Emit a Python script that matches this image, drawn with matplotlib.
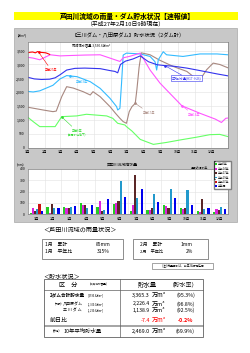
import numpy as np
import matplotlib
matplotlib.use("Agg")
import matplotlib.pyplot as plt
from matplotlib.patches import Rectangle
from matplotlib.lines import Line2D

plt.rcParams['font.family'] = ['Noto Sans CJK JP', 'DejaVu Sans']

# ---------------- data ----------------
month_labels = ['1月', '2月', '3月', '4月', '5月', '6月', '7月', '8月', '9月', '10月', '11月', '12月']
month_start = [0, 31, 59, 90, 120, 151, 181, 212, 243, 273, 304, 334]

# storage of the 2 dams (day of year, 万m3)
h27_days = [0, 4, 9, 14, 18, 23, 28, 33, 37, 40]
h27_vol = [3420, 3440, 3450, 3420, 3465, 3440, 3430, 3420, 3390, 3365]

h14_days = [0, 10, 22, 41, 59, 72, 104, 132, 150, 168, 174, 187, 205, 223, 241, 259, 281, 314, 342, 353, 361, 365]
h14_vol = [3260, 3230, 3170, 3350, 3310, 3320, 3340, 3350, 3230, 3110, 3240, 3300, 3410, 2800, 2330, 1960, 1510, 1240, 1030, 910, 1060, 1070]

avg_days = [0, 12, 25, 40, 50, 59, 71, 86, 104, 132, 150, 159, 164, 169, 178, 192, 205, 220, 236, 250, 265, 290, 314, 345, 365]
avg_vol = [2540, 2480, 2460, 2470, 2520, 2630, 2800, 2860, 2870, 2850, 2780, 2750, 2700, 3000, 3120, 3200, 3310, 3100, 2990, 2960, 2940, 2870, 2780, 2660, 2590]

h19_days = [0, 10, 22, 46, 59, 71, 90, 114, 132, 150, 162, 164, 168, 171, 174, 180, 205, 223, 232, 235, 238, 247, 253, 283, 314, 345, 365]
h19_vol = [2030, 2010, 2050, 2250, 2480, 2600, 2560, 2380, 2140, 1780, 1480, 1360, 1420, 2320, 3340, 3410, 3380, 3290, 3100, 2800, 3170, 3460, 3350, 3290, 3380, 3380, 3350]

h17_days = [0, 28, 46, 52, 62, 71, 83, 101, 114, 119, 132, 150, 160, 168, 174, 180, 185, 190, 196, 199, 203, 207, 223, 241, 265, 290, 306, 314, 326, 338, 350, 365]
h17_vol = [1460, 1360, 1300, 1320, 1840, 2200, 2150, 2020, 1900, 2020, 1840, 1480, 1240, 1060, 940, 880, 1300, 1480, 1600, 2100, 2900, 3420, 3350, 3150, 2930, 2750, 2500, 2450, 2810, 3050, 3000, 2880]

h6_days = [0, 10, 22, 50, 62, 89, 107, 144, 155, 164, 177, 180, 190, 205, 229, 253, 278, 308, 332, 350, 365]
h6_vol = [1100, 940, 760, 760, 1120, 1145, 1205, 1145, 1060, 880, 820, 760, 600, 300, 120, 190, 280, 380, 470, 480, 400]

# monthly rainfall (mm)
rain_h6 = [12, 65, 60, 96, 66, 90, 27, 36, 81, 51, 27, 21]
rain_h14 = [50, 10, 57, 81, 120, 96, 81, 36, 75, 45, 21, 45]
rain_h17 = [27, 87, 54, 81, 30, 116, 347, 54, 54, 54, 131, 36]
rain_h19 = [42, 51, 60, 57, 36, 296, 143, 174, 221, 214, 45, 63]
rain_h27 = [85, 1]
rain_normal = [27, 54, 69, 81, 134, 153, 220, 104, 143, 81, 54, 48]

capacity_total = 3530.6
storage_now = 3365.3
storage_hattabara = 2226.4
cap_hattabara = 2300.0
storage_mikawa = 1138.9
cap_mikawa = 1230.6
storage_change = -7.4
storage_avg10 = 2469.0

# ---------------- figure ----------------
W, H = 250, 353
fig = plt.figure(figsize=(2.5, 3.53), dpi=100)


def fx(x):
    return x / W


def fy(y):
    return 1 - y / H


def box(x0, y0, x1, y1):
    return [fx(x0), fy(y1), fx(x1) - fx(x0), fy(y0) - fy(y1)]


def rect(x0, y0, x1, y1, **kw):
    kw.setdefault('zorder', -5)
    fig.patches.append(Rectangle((fx(x0), fy(y1)), fx(x1) - fx(x0), fy(y0) - fy(y1),
                                 transform=fig.transFigure, **kw))


def hline(x0, x1, y, **kw):
    fig.lines.append(Line2D([fx(x0), fx(x1)], [fy(y), fy(y)], transform=fig.transFigure, **kw))


def vline(x, y0, y1, **kw):
    fig.lines.append(Line2D([fx(x), fx(x)], [fy(y0), fy(y1)], transform=fig.transFigure, **kw))


def txt(x, y, s, size, **kw):
    kw.setdefault('va', 'center')
    fig.text(fx(x), fy(y), s, fontsize=size, **kw)


# title
rect(14, 12.5, 238, 19.5, facecolor='#FFFF00', edgecolor='none')
txt(127, 16, '芦田川流域の雨量・ダム貯水状況【速報値】', 4.9, ha='center', fontweight='bold')
txt(126, 24, '（平成27年2月10日9時現在）', 4.2, ha='center')

# gray panel
rect(14, 28, 237, 222, facecolor='#C8C8C8', edgecolor='#A8A8A8', lw=0.5)
txt(128, 35, '【三川ダム・八田原ダム】貯水状況（2ダム計）', 3.8, ha='center')
txt(22, 35, '(万m³)', 2.2, ha='center')

# ---- storage chart ----
ax = fig.add_axes(box(27.7, 42.3, 228, 147.7))
ax.set_facecolor('white')
ax.set_xlim(0, 365)
ax.set_ylim(0, 3800)
ax.set_yticks(range(0, 3501, 500))
ax.set_yticklabels([f'{v:,}' for v in range(0, 3501, 500)])
ax.set_xticks(month_start)
ax.set_xticklabels(month_labels)
ax.tick_params(labelsize=2.5, length=0, pad=2)
ax.grid(color='#E2E2E2', lw=0.4)
for s in ax.spines.values():
    s.set_color('#808080')
    s.set_linewidth(0.5)

series = [
    (h6_days, h6_vol, '#66FF66', '平成6年'),
    (h17_days, h17_vol, '#A88880', '平成17年'),
    (h19_days, h19_vol, '#33BBFF', '平成19年'),
    (h14_days, h14_vol, '#FF55FF', '平成14年'),
    (avg_days, avg_vol, '#3333EE', '平均貯水量'),
    (h27_days, h27_vol, '#FF0000', '平成27年'),
]
for d, v, c, name in series:
    ax.plot(d, v, color=c, lw=0.8)

ax.text(115, 3700, '常時満水容量 3,530.6万m³', fontsize=2.3, ha='center', va='center')


def label(xy, xyt, s, c, boxed=False):
    ax.plot(*xy, marker='o', ms=0.9, color=c)
    kw = dict(fontsize=2.2, color=c, ha='left', va='center',
              arrowprops=dict(arrowstyle='-', color=c, lw=0.4, shrinkA=0, shrinkB=0))
    if boxed:
        kw['bbox'] = dict(boxstyle='square,pad=0.2', fc='white', ec=c, lw=0.4)
    ax.annotate(s, xy=xy, xytext=xyt, **kw)


label((20, 3440), (32, 2790), '平成27年', '#FF0000')
label((77, 2600), (88, 2370), '平成19年', '#33BBFF')
label((250, 2960), (263, 2510), '平均貯水量(H17~H26)', '#3333EE', boxed=True)
label((196, 1600), (210, 1250), '平成17年', '#A88880')
label((281, 1510), (292, 1180), '平成14年', '#FF55FF')
label((62, 1110), (80, 600), '平成6年', '#33DD33')
ax.text(73, 430, '(自己水位低下)', fontsize=2.0, color='#33DD33', va='center')

# ---- rainfall chart ----
txt(122, 165, '芦田川流域降水量', 2.8, ha='center')
txt(21, 165, '(mm)', 2.2, ha='center')
ax2 = fig.add_axes(box(28, 169, 228, 214))
ax2.set_facecolor('white')
x = np.arange(12)
bw = 0.13
bars = [
    (rain_h6, '#22CC22', '平成6年'),
    (rain_h14, '#DD22DD', '平成14年'),
    (rain_h17, '#5A2626', '平成17年'),
    (rain_h19, '#2299CC', '平成19年'),
    (rain_h27, '#CC1111', '平成27年'),
    (rain_normal, '#0000EE', '平年値'),
]
for i, (vals, c, name) in enumerate(bars):
    ax2.bar(x[:len(vals)] + (i - 2.5) * bw, vals, bw, color=c, label=name, lw=0)
ax2.set_xlim(-0.5, 11.5)
ax2.set_ylim(0, 400)
ax2.set_yticks(range(0, 401, 100))
ax2.set_xticks(x)
ax2.set_xticklabels(month_labels)
ax2.tick_params(labelsize=2.5, length=0, pad=2)
ax2.set_xticks(x[:-1] + 0.5, minor=True)
ax2.tick_params(which='minor', length=0)
ax2.grid(axis='y', color='#E2E2E2', lw=0.4)
ax2.grid(axis='x', which='minor', color='#E2E2E2', lw=0.4)
ax2.set_axisbelow(True)
for s in ax2.spines.values():
    s.set_color('#808080')
    s.set_linewidth(0.5)
ax2.legend(loc='upper right', bbox_to_anchor=(fx(232), fy(160)), bbox_transform=fig.transFigure,
           fontsize=2.0, frameon=True, fancybox=False, edgecolor='#808080', framealpha=1,
           handlelength=0.8, handleheight=0.7, borderpad=0.3, labelspacing=0.15, handletextpad=0.4)
vline(213.5, 161, 179, color='black', lw=0.4)
hline(213.5, 215, 161, color='black', lw=0.4)
hline(213.5, 215, 179, color='black', lw=0.4)
txt(200, 168, '過去の渇水年', 2.1, ha='center')

# ---------------- rainfall summary ----------------
txt(43, 229, '＜芦田川流域の雨量状況＞', 4.4, ha='left')
rect(42, 239, 123, 259, facecolor='none', edgecolor='#606060', lw=0.5)
rect(133, 239, 208, 259, facecolor='none', edgecolor='#606060', lw=0.5)
ratio1 = round(rain_h27[0] / rain_normal[0] * 100)
ratio2 = round(rain_h27[1] / rain_normal[1] * 100)
txt(45, 244.3, '1月　累計', 3.5)
txt(110, 244.3, f'{rain_h27[0]}mm', 3.5, ha='right')
txt(45, 251.7, '1月　平年比', 3.5)
txt(110, 251.7, f'{ratio1}%', 3.5, ha='right')
txt(140, 244.3, '2月　累計', 3.5)
txt(193, 244.3, f'{rain_h27[1]}mm', 3.5, ha='right')
txt(140, 251.7, '2月　平年比', 3.0)
txt(193, 251.7, f'{ratio2}%', 3.5, ha='right')
rect(152, 262.5, 213, 268.5, facecolor='none', edgecolor='#606060', lw=0.4)
txt(182.5, 265.5, '(注) 雨量累計は、前日24時現在値', 2.0, ha='center')

# ---------------- storage table ----------------
txt(43, 276.7, '＜貯水状況＞', 4.4, ha='left')
rect(44, 279, 203, 337, facecolor='none', edgecolor='#606060', lw=0.6)
vline(120, 279, 337, color='#606060', lw=0.5)
hline(44, 203, 289.5, color='#606060', lw=0.5)
hline(44, 203, 325, color='#606060', lw=0.4)
hline(44, 203, 326.3, color='#606060', lw=0.4)

txt(68, 284.5, '区　分', 4.4, ha='center')
txt(99, 284.5, '(常時満水容量)', 1.9, ha='center')
txt(147, 284.5, '貯水量', 4.6, ha='center')
txt(184, 284.5, '（貯水率）', 4.2, ha='center')


def vol_row(y, v, pct, size, color='black', bold=False):
    w = 'bold' if bold else 'normal'
    txt(150, y, f'{v:,.1f}', size, ha='right', color=color, fontweight=w)
    txt(152, y, '万m³', size + 0.5, ha='left', color=color)
    txt(195, y, f'({pct:.1f}%)' if pct is not None else '', size, ha='right', color=color, fontweight=w)


txt(50, 295, '2ダム合計貯水量', 3.3, fontweight='bold')
txt(88, 295, f'[{capacity_total:,.1f}万m³]', 1.8)
vol_row(295, storage_now, storage_now / capacity_total * 100, 3.9)

txt(55, 304, '(内訳)', 2.0)
txt(63, 304, '八田原ダム', 2.9)
txt(88, 304, f'[{cap_hattabara:,.1f}万m³]', 1.8)
vol_row(304, storage_hattabara, storage_hattabara / cap_hattabara * 100, 3.7)

txt(63, 310.7, '三 川 ダ ム', 2.9)
txt(88, 310.7, f'[{cap_mikawa:,.1f}万m³]', 1.8)
vol_row(310.7, storage_mikawa, storage_mikawa / cap_mikawa * 100, 3.7)

txt(50, 320, '前日比', 4.3)
txt(150, 320, f'{storage_change:.1f}', 3.9, ha='right', color='#FF0000')
txt(152, 320, '万m³', 4.4, ha='left', color='#FF0000')
txt(193, 320, f'{storage_change / capacity_total * 100:.1f}%', 3.9, ha='right', color='#FF0000',
    fontweight='bold')

txt(53, 331, '(参考)', 2.0)
txt(64, 331, '10年平均貯水量', 3.9)
vol_row(331, storage_avg10, storage_avg10 / capacity_total * 100, 3.9)

fig.savefig('out.png', dpi=100, facecolor='white')
